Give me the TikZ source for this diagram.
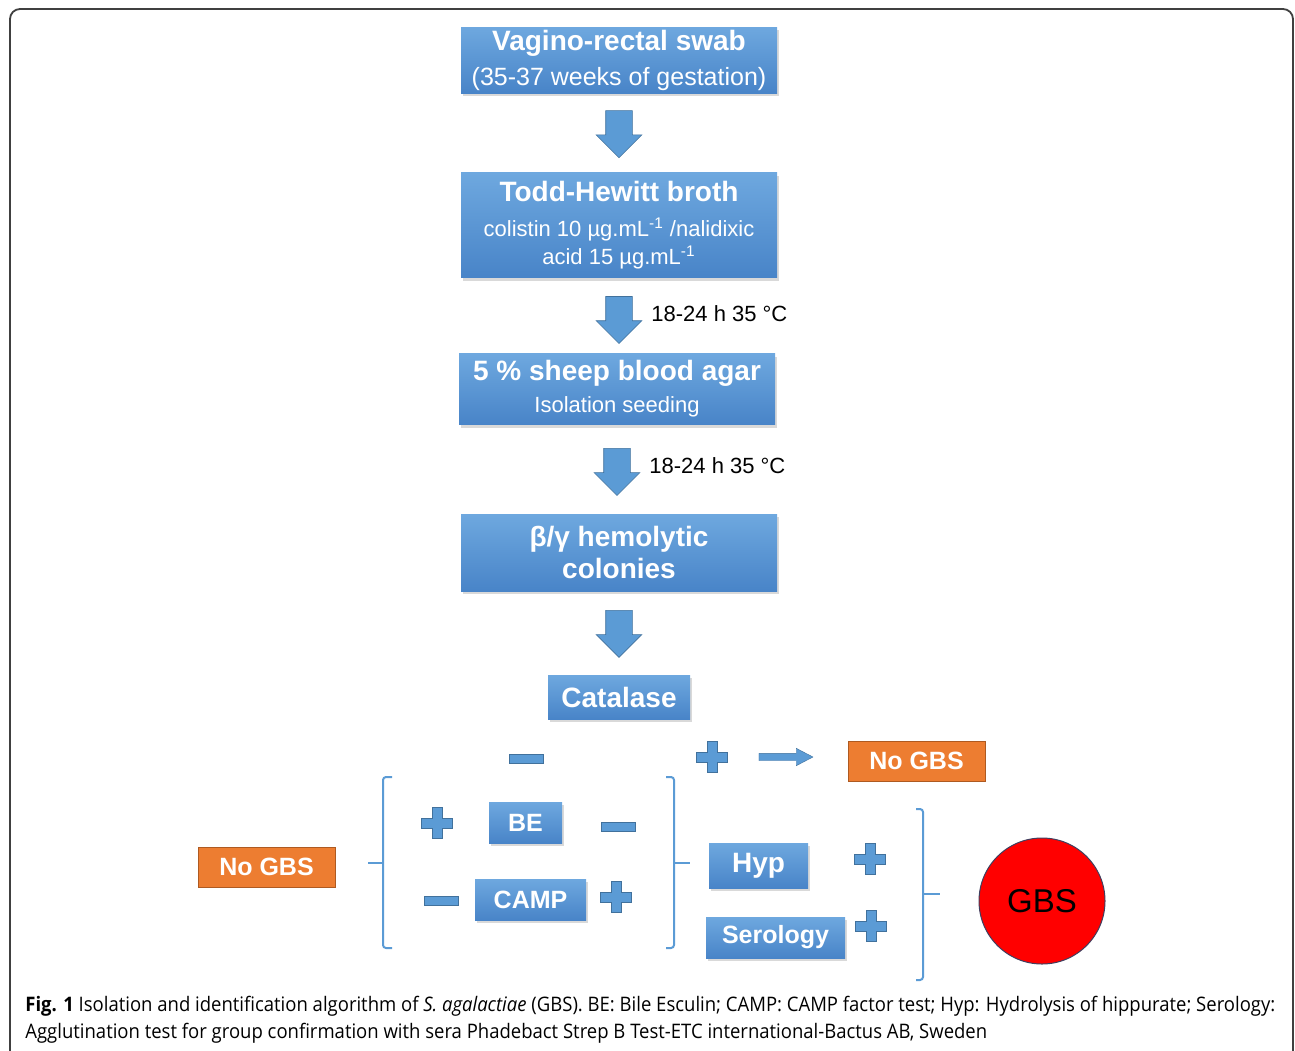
\documentclass[tikz,border=0pt]{standalone}
\usepackage{fontspec}
\setmainfont{Liberation Sans}
\newfontfamily\capfont{Open Sans}[FakeStretch=0.925]
\usetikzlibrary{arrows.meta,positioning,calc,shapes.arrows,shadows}

\definecolor{boxtop}{HTML}{6EA8DF}
\definecolor{boxbot}{HTML}{4884C8}
\definecolor{arrblue}{HTML}{5B9BD5}
\definecolor{arredge}{HTML}{41719C}
\definecolor{ngfill}{HTML}{ED7D31}
\definecolor{ngedge}{HTML}{AE5A21}
\definecolor{gbsedge}{HTML}{3F3F5F}

\newcommand{\ttl}[1]{{\fontsize{14}{16}\selectfont\bfseries #1}}
\newcommand{\subtxt}[1]{{\fontsize{11}{13}\selectfont #1}}

\tikzset{
  bluebox/.style={rectangle,top color=boxtop,bottom color=boxbot,text=white,align=center,inner sep=0pt,
    drop shadow={shadow xshift=1pt,shadow yshift=-1.5pt,opacity=0.3}},
  mainbox/.style={bluebox,minimum width=158pt,font=\fontsize{14}{16}\selectfont},
  smallbox/.style={bluebox,minimum height=20.5pt,font=\fontsize{12.5}{15}\selectfont\bfseries},
  orangebox/.style={rectangle,fill=ngfill,draw=ngedge,line width=0.4pt,text=white,inner sep=0pt,
    minimum width=68.5pt,minimum height=20pt,font=\fontsize{12.5}{15}\selectfont\bfseries},
  downarr/.style={single arrow,sloped,anchor=tail,fill=arrblue,draw=arredge,line width=0.3pt,inner xsep=0pt,inner ysep=6.5pt,
    minimum height=23.5pt,minimum width=22.5pt,single arrow head extend=4.75pt,single arrow tip angle=90},
  sidearr/.style={single arrow,sloped,anchor=tail,fill=arrblue,draw=arredge,line width=0.2pt,inner xsep=0pt,inner ysep=1.75pt,
    minimum height=27pt,minimum width=8.5pt,single arrow head extend=2.5pt,single arrow tip angle=55},
  minusbar/.style={rectangle,fill=arrblue,draw=arredge,line width=0.3pt,inner sep=0pt,
    minimum width=17pt,minimum height=4.5pt},
  brk/.style={draw=arrblue,line width=1pt,rounded corners=1.5pt},
  lbl/.style={font=\fontsize{11}{13}\selectfont,inner sep=0pt},
  plussign/.pic={\filldraw[fill=arrblue,draw=arredge,line width=0.3pt]
    (-5,-15.5) -- (5,-15.5) -- (5,-5) -- (15.5,-5) -- (15.5,5) -- (5,5) -- (5,15.5)
    -- (-5,15.5) -- (-5,5) -- (-15.5,5) -- (-15.5,-5) -- (-5,-5) -- cycle;}
}

\begin{document}
\begin{tikzpicture}[x=0.5pt,y=-0.5pt]
  \useasboundingbox (0,0) rectangle (1295,1050);
  \draw[line width=0.9pt,black!75,rounded corners=5pt] (10,9) rectangle (1293,1064);

  % main column
  \node[mainbox,minimum height=33pt] (b1) at (619,60)
    {\ttl{Vagino-rectal swab}\\[1.5pt]{\fontsize{12.5}{15}\selectfont (35-37 weeks of gestation)}};
  \node[mainbox,minimum height=52.5pt,below=39.5pt of b1] (b2)
    {\ttl{Todd-Hewitt broth}\\[1.5pt]\subtxt{colistin 10 µg.mL\textsuperscript{-1} /nalidixic}\\[-2pt]
     \subtxt{acid 15 µg.mL\textsuperscript{-1}}};
  \node[mainbox,minimum height=35.5pt,below=37.5pt of b2,xshift=-1pt] (b3)
    {\ttl{5 \% sheep blood agar}\\\subtxt{Isolation seeding}};
  \node[mainbox,minimum height=38.5pt,below=44.5pt of b3,xshift=1pt] (b4)
    {\ttl{β/γ hemolytic}\\\ttl{colonies}};
  \node[bluebox,minimum width=71pt,minimum height=22pt,font=\fontsize{14}{16}\selectfont\bfseries,
    below=41.5pt of b4] (cat) {Catalase};

  \path (b1.south) -- node[downarr,pos=0.215] (a1) {} (b2.north);
  \path (b2.south) -- node[downarr,pos=0.24] (a2) {} (b2.south |- b3.north);
  \path (b3.south) -- node[downarr,pos=0.26] (a3) {} (b3.south |- b4.north);
  \path (b4.south) -- node[downarr,pos=0.22] (a4) {} (cat.north);
  \node[lbl,right=16pt of a2.center] (t2) {18-24 h 35 °C};
  \node[lbl,right=16pt of a3.center] (t3) {18-24 h 35 °C};

  % catalase result
  \node[minusbar] (m0) at (526,759) {};
  \coordinate (p0) at (712,757);
  \pic at (p0) {plussign};
  \node[orangebox] (ng1) at (916.5,761) {No GBS};
  \path (p0) -- node[sidearr,pos=0.345] (a5) {} (p0 -| ng1.west);

  % BE / CAMP
  \coordinate (p1) at (437,823);
  \pic at (p1) {plussign};
  \node[smallbox,minimum width=36.5pt] (be) at (525.5,822.5) {BE};
  \node[minusbar] (m1) at (618,827) {};
  \node[minusbar] (m2) at (441,901) {};
  \node[smallbox,minimum width=55.5pt] (camp) at (530.5,899.5) {CAMP};
  \coordinate (p2) at (616,897);
  \pic at (p2) {plussign};
  \node[orangebox] (ng2) at (266.5,867) {No GBS};

  \draw[brk] (392,777) -- (383,777) -- (383,948) -- (392,948);
  \draw[brk] (383,863) -- (368,863);
  \draw[brk] (666,777) -- (674,777) -- (674,948) -- (666,948);
  \draw[brk] (674,863) -- (690,863);

  % Hyp / Serology
  \node[smallbox,minimum width=49.5pt,minimum height=22.5pt,font=\fontsize{14}{16}\selectfont\bfseries]
    (hyp) at (758.5,865.5) {Hyp};
  \coordinate (p3) at (870,859);
  \pic at (p3) {plussign};
  \node[smallbox,minimum width=69.5pt] (sero) at (775.5,937.5) {Serology};
  \coordinate (p4) at (871,926);
  \pic at (p4) {plussign};

  \draw[brk] (916,809) -- (923,809) -- (923,980) -- (916,980);
  \draw[brk] (923,894) -- (940,894);

  \node[circle,fill=red,draw=gbsedge,line width=0.5pt,minimum size=63pt,inner sep=0pt,
    font=\fontsize{16.5}{20}\selectfont] (gbs) at (1042,901) {GBS};

  % caption
  \node[anchor=west,inner sep=0pt,align=left,font=\capfont\fontsize{10}{13.5}\selectfont] (cap) at (25,1019.5)
    {\textbf{Fig. 1} Isolation and identification algorithm of \textit{S. agalactiae} (GBS). BE: Bile Esculin; CAMP: CAMP factor test; Hyp: Hydrolysis of hippurate; Serology:\\
     Agglutination test for group confirmation with sera Phadebact Strep B Test-ETC international-Bactus AB, Sweden};
\end{tikzpicture}
\end{document}
